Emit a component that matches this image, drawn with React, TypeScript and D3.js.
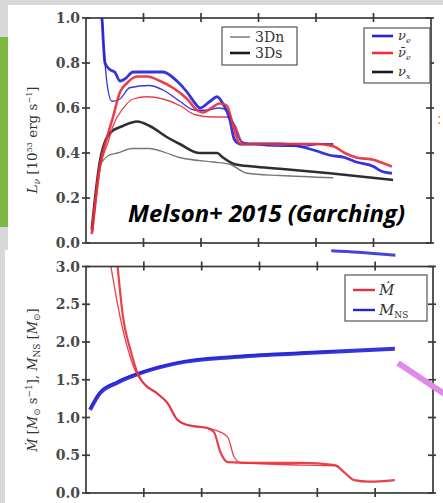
import * as d3 from 'd3'

type Pt = [number, number]

// upper panel: luminosities [time (s), L (1e53 erg/s)]
const nueS: Pt[] = [[0.022,1.05],[0.028,0.99],[0.030,0.90],[0.033,0.80],[0.042,0.77],[0.050,0.76],[0.059,0.72],[0.068,0.73],[0.082,0.76],[0.106,0.76],[0.134,0.76],[0.158,0.72],[0.176,0.67],[0.190,0.62],[0.198,0.60],[0.216,0.63],[0.228,0.65],[0.238,0.62],[0.250,0.55],[0.258,0.46],[0.268,0.44],[0.290,0.44],[0.340,0.44],[0.370,0.43],[0.400,0.41],[0.424,0.39],[0.450,0.38],[0.470,0.36],[0.500,0.34],[0.513,0.32],[0.532,0.31]]
const nueN: Pt[] = [[0.022,1.05],[0.028,0.99],[0.030,0.90],[0.033,0.80],[0.037,0.70],[0.045,0.63],[0.059,0.64],[0.076,0.69],[0.110,0.70],[0.134,0.68],[0.163,0.63],[0.190,0.59],[0.210,0.59],[0.230,0.60],[0.245,0.59],[0.258,0.52],[0.270,0.45],[0.290,0.44],[0.340,0.43],[0.380,0.43],[0.410,0.44],[0.430,0.44]]
const nuebS: Pt[] = [[0.010,0.04],[0.024,0.34],[0.038,0.48],[0.047,0.56],[0.059,0.67],[0.071,0.71],[0.089,0.74],[0.106,0.74],[0.129,0.72],[0.151,0.69],[0.176,0.64],[0.193,0.59],[0.203,0.58],[0.233,0.62],[0.245,0.61],[0.256,0.52],[0.268,0.44],[0.300,0.44],[0.350,0.44],[0.400,0.44],[0.430,0.43],[0.450,0.40],[0.470,0.38],[0.500,0.37],[0.511,0.36],[0.532,0.34]]
const nuebN: Pt[] = [[0.012,0.05],[0.024,0.32],[0.040,0.46],[0.047,0.52],[0.065,0.60],[0.082,0.64],[0.106,0.65],[0.134,0.64],[0.164,0.61],[0.190,0.57],[0.220,0.56],[0.245,0.56],[0.260,0.52],[0.272,0.45],[0.290,0.44],[0.340,0.44],[0.380,0.44],[0.410,0.44],[0.430,0.44]]
const nuxS: Pt[] = [[0.010,0.06],[0.024,0.36],[0.042,0.49],[0.064,0.52],[0.089,0.54],[0.111,0.52],[0.141,0.47],[0.163,0.44],[0.198,0.40],[0.228,0.40],[0.238,0.38],[0.259,0.35],[0.290,0.34],[0.337,0.33],[0.424,0.31],[0.534,0.28]]
const nuxN: Pt[] = [[0.010,0.05],[0.024,0.34],[0.040,0.39],[0.055,0.40],[0.080,0.42],[0.110,0.42],[0.140,0.40],[0.163,0.38],[0.221,0.36],[0.250,0.35],[0.280,0.31],[0.337,0.30],[0.430,0.29]]

// lower panel: accretion rate and NS mass [time (s), value]
const mdotS: Pt[] = [[0.054,3.05],[0.064,2.33],[0.077,1.89],[0.089,1.59],[0.099,1.46],[0.123,1.32],[0.141,1.19],[0.158,0.97],[0.176,0.90],[0.210,0.86],[0.221,0.81],[0.233,0.53],[0.245,0.41],[0.285,0.40],[0.372,0.40],[0.430,0.37],[0.447,0.27],[0.464,0.17],[0.489,0.15],[0.534,0.17]]
const mdotN: Pt[] = [[0.042,3.05],[0.059,2.33],[0.073,1.89],[0.087,1.59],[0.099,1.46],[0.123,1.32],[0.141,1.19],[0.158,0.97],[0.176,0.90],[0.210,0.86],[0.221,0.84],[0.245,0.74],[0.256,0.48],[0.268,0.40],[0.372,0.37],[0.437,0.36]]
const mnsS: Pt[] = [[0.007,1.10],[0.024,1.32],[0.054,1.46],[0.099,1.60],[0.158,1.72],[0.256,1.80],[0.372,1.85],[0.534,1.91]]
const mnsN: Pt[] = [[0.007,1.12],[0.024,1.34],[0.054,1.48],[0.099,1.61],[0.158,1.73],[0.256,1.81],[0.372,1.86],[0.430,1.88]]
const mnsCut: Pt[] = [[0.424,3.21],[0.470,3.19],[0.535,3.15]]

const tTicks = [0.1, 0.2, 0.3, 0.4, 0.5]
const lumTicks = [0, 0.2, 0.4, 0.6, 0.8, 1.0]
const massTicks = [0, 0.5, 1.0, 1.5, 2.0, 2.5, 3.0]

const BLUE = '#2424d6'
const RED = '#e8303c'
const BLACK = '#1c1c1c'
const GREY = '#6a6a6a'
const AX = '#3a3a3a'
const SERIF = '"DejaVu Serif", "Liberation Serif", serif'

const xU = d3.scaleLinear().domain([0, 0.6]).range([86, 431])
const yU = d3.scaleLinear().domain([0, 1]).range([243, 18])
const xL = d3.scaleLinear().domain([0, 0.6]).range([86, 433])
const yL = d3.scaleLinear().domain([0, 3]).range([493, 266.5])

function Frame({ x, y, yt, fmt }: { x: d3.ScaleLinear<number, number>; y: d3.ScaleLinear<number, number>; yt: number[]; fmt: (v: number) => string }) {
  const [x0, x1] = x.range()
  const [y0, y1] = y.range()
  return (
    <g stroke={AX} strokeWidth={1.7} fill="none">
      <rect x={x0} y={y1} width={x1 - x0} height={y0 - y1} />
      {tTicks.map((t) => (
        <g key={t}>
          <line x1={x(t)} x2={x(t)} y1={y0 - 5} y2={y0 + 4} />
          <line x1={x(t)} x2={x(t)} y1={y1 - 5} y2={y1 + 4} />
        </g>
      ))}
      {yt.map((v) => (
        <g key={v}>
          <line x1={x0 - 4} x2={x0 + 4} y1={y(v)} y2={y(v)} />
          <line x1={x1 - 5} x2={x1 + 3} y1={y(v)} y2={y(v)} />
          <text x={x0 - 6} y={y(v)} dy="0.36em" textAnchor="end" stroke="none" fill="#4a4a4a"
            fontFamily={SERIF} fontWeight="bold" fontSize={14}>{fmt(v)}</text>
        </g>
      ))}
    </g>
  )
}

export default function App() {
  const lineU = d3.line<Pt>().x((d) => xU(d[0])).y((d) => yU(d[1])).curve(d3.curveMonotoneX)
  const lineL = d3.line<Pt>().x((d) => xL(d[0])).y((d) => yL(d[1])).curve(d3.curveMonotoneX)
  const fmt = d3.format('.1f')

  const upper = [
    { d: nuxN, c: GREY, w: 1.3 },
    { d: nuxS, c: BLACK, w: 2.6 },
    { d: nuebN, c: RED, w: 1.3 },
    { d: nueN, c: BLUE, w: 1.3 },
    { d: nueS, c: BLUE, w: 2.8 },
    { d: nuebS, c: RED, w: 2.6 },
  ]
  const lower = [
    { d: mnsS, c: BLUE, w: 4 },
    { d: mnsN, c: BLUE, w: 1.4 },
    { d: mdotN, c: RED, w: 1.3 },
    { d: mdotS, c: RED, w: 2.2 },
  ]

  return (
    <svg width={443} height={503} style={{ position: 'absolute', left: 0, top: 0 }}>
      <defs>
        <clipPath id="cu"><rect x={86} y={18} width={345} height={225} /></clipPath>
        <clipPath id="cl"><rect x={86} y={266.5} width={347} height={226.5} /></clipPath>
      </defs>
      <rect width={443} height={503} fill="#d8d8d8" />
      <rect x={8} y={5} width={435} height={245} fill="#fff" />
      <rect x={0} y={37} width={8} height={190} fill="#7cb843" />
      <rect x={5} y={250} width={438} height={253} fill="#fff" />

      {/* upper panel */}
      <g clipPath="url(#cu)" fill="none" strokeLinejoin="round">
        {upper.map((s, i) => (
          <path key={i} d={lineU(s.d) ?? ''} stroke={s.c} strokeWidth={s.w} opacity={0.92} />
        ))}
      </g>
      <Frame x={xU} y={yU} yt={lumTicks} fmt={fmt} />

      <g fontFamily={SERIF} fontSize={14} fill="#333">
        <rect x={222} y={27} width={75} height={38} fill="#fff" stroke="#555" strokeWidth={1.2} />
        <line x1={230} x2={250} y1={37} y2={37} stroke={GREY} strokeWidth={1.3} />
        <line x1={230} x2={250} y1={53} y2={53} stroke={BLACK} strokeWidth={2.6} />
        <text x={255} y={42}>3Dn</text>
        <text x={255} y={58}>3Ds</text>

        <rect x={364} y={28} width={66} height={55} fill="#fff" stroke="#555" strokeWidth={1.2} />
        <line x1={372} x2={393} y1={36} y2={36} stroke={BLUE} strokeWidth={2.6} />
        <line x1={372} x2={393} y1={53} y2={53} stroke={RED} strokeWidth={2.6} />
        <line x1={372} x2={393} y1={72} y2={72} stroke={BLACK} strokeWidth={2.6} />
        <text x={398} y={40} fontStyle="italic" fontSize={13}>ν<tspan fontSize={8} dy={3}>e</tspan></text>
        <text x={398} y={57} fontStyle="italic" fontSize={13}>ν̄<tspan fontSize={8} dy={3}>e</tspan></text>
        <text x={398} y={76} fontStyle="italic" fontSize={13}>ν<tspan fontSize={8} dy={3}>x</tspan></text>
      </g>

      <text x={128} y={222} fontFamily='"Open Sans", sans-serif' fontWeight="bold" fontStyle="italic"
        fontSize={23} textLength={277} lengthAdjust="spacingAndGlyphs" fill="#000">Melson+ 2015 (Garching)</text>

      <text transform="translate(37,140) rotate(-90)" textAnchor="middle" fontFamily={SERIF} fontSize={13.5} fill="#333">
        <tspan fontStyle="italic">L</tspan><tspan fontSize={9} dy={3} fontStyle="italic">ν</tspan>
        <tspan dy={-3}> [10</tspan><tspan fontSize={8} dy={-5}>53</tspan><tspan dy={5}> erg s</tspan>
        <tspan fontSize={8} dy={-5}>−1</tspan><tspan dy={5}>]</tspan>
      </text>

      {/* lower panel */}
      <path d={lineL(mnsCut) ?? ''} stroke={BLUE} strokeWidth={3} fill="none" opacity={0.85} />
      <g clipPath="url(#cl)" fill="none" strokeLinejoin="round">
        {lower.map((s, i) => (
          <path key={i} d={lineL(s.d) ?? ''} stroke={s.c} strokeWidth={s.w} opacity={0.92} />
        ))}
      </g>
      <Frame x={xL} y={yL} yt={massTicks} fmt={fmt} />

      <g fontFamily={SERIF} fontSize={15} fill="#333">
        <rect x={345} y={275} width={82} height={46} fill="#fff" stroke="#555" strokeWidth={1.2} />
        <line x1={353} x2={375} y1={290} y2={290} stroke={RED} strokeWidth={2.4} />
        <line x1={353} x2={375} y1={310} y2={310} stroke={BLUE} strokeWidth={2.4} />
        <text x={379} y={295} fontStyle="italic">Ṁ</text>
        <text x={379} y={315} fontStyle="italic">M<tspan fontSize={9} dy={3} fontStyle="normal">NS</tspan></text>
      </g>

      <text transform="translate(37,380) rotate(-90)" textAnchor="middle" fontFamily={SERIF} fontSize={13} fill="#333">
        <tspan fontStyle="italic">Ṁ</tspan><tspan> [</tspan><tspan fontStyle="italic">M</tspan>
        <tspan fontSize={9} dy={3}>⊙</tspan><tspan dy={-3}> s</tspan><tspan fontSize={9} dy={-5}>−1</tspan>
        <tspan dy={5}>], </tspan><tspan fontStyle="italic">M</tspan><tspan fontSize={9} dy={3}>NS</tspan>
        <tspan dy={-3}> [</tspan><tspan fontStyle="italic">M</tspan><tspan fontSize={9} dy={3}>⊙</tspan>
        <tspan dy={-3}>]</tspan>
      </text>

      {/* slide decorations */}
      <line x1={398} y1={363} x2={446} y2={395} stroke="#e08ae8" strokeWidth={6} />
      <rect x={438} y={116} width={2} height={2} fill="#f0a878" />
      <rect x={438} y={122} width={2} height={2} fill="#f0a878" />
    </svg>
  )
}
